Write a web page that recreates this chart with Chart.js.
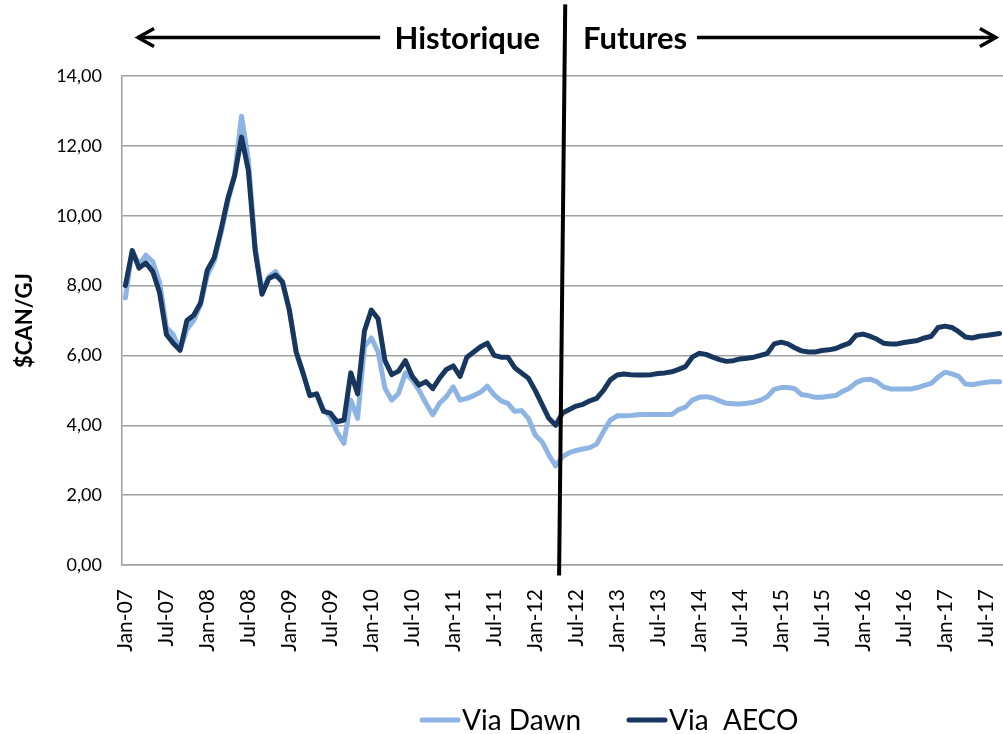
<!DOCTYPE html>
<html><head><meta charset="utf-8">
<script src="https://cdn.jsdelivr.net/npm/chart.js@4.4.1/dist/chart.umd.min.js"></script>
<style>html,body{margin:0;padding:0;background:#fff;overflow:hidden}#wrap{width:1003px;height:734px;position:relative}</style>
</head><body><div id="wrap"><canvas id="c" width="1003" height="734"></canvas></div>
<script>
const categories = [
 'Jan-07','Feb-07','Mar-07','Apr-07','May-07','Jun-07','Jul-07','Aug-07','Sep-07','Oct-07','Nov-07','Dec-07',
 'Jan-08','Feb-08','Mar-08','Apr-08','May-08','Jun-08','Jul-08','Aug-08','Sep-08','Oct-08','Nov-08','Dec-08',
 'Jan-09','Feb-09','Mar-09','Apr-09','May-09','Jun-09','Jul-09','Aug-09','Sep-09','Oct-09','Nov-09','Dec-09',
 'Jan-10','Feb-10','Mar-10','Apr-10','May-10','Jun-10','Jul-10','Aug-10','Sep-10','Oct-10','Nov-10','Dec-10',
 'Jan-11','Feb-11','Mar-11','Apr-11','May-11','Jun-11','Jul-11','Aug-11','Sep-11','Oct-11','Nov-11','Dec-11',
 'Jan-12','Feb-12','Mar-12','Apr-12','May-12','Jun-12','Jul-12','Aug-12','Sep-12','Oct-12','Nov-12','Dec-12',
 'Jan-13','Feb-13','Mar-13','Apr-13','May-13','Jun-13','Jul-13','Aug-13','Sep-13','Oct-13','Nov-13','Dec-13',
 'Jan-14','Feb-14','Mar-14','Apr-14','May-14','Jun-14','Jul-14','Aug-14','Sep-14','Oct-14','Nov-14','Dec-14',
 'Jan-15','Feb-15','Mar-15','Apr-15','May-15','Jun-15','Jul-15','Aug-15','Sep-15','Oct-15','Nov-15','Dec-15',
 'Jan-16','Feb-16','Mar-16','Apr-16','May-16','Jun-16','Jul-16','Aug-16','Sep-16','Oct-16','Nov-16','Dec-16',
 'Jan-17','Feb-17','Mar-17','Apr-17','May-17','Jun-17','Jul-17','Aug-17','Sep-17'
];
const tickLabels = ['Jan-07','Jul-07','Jan-08','Jul-08','Jan-09','Jul-09','Jan-10','Jul-10','Jan-11','Jul-11','Jan-12','Jul-12',
 'Jan-13','Jul-13','Jan-14','Jul-14','Jan-15','Jul-15','Jan-16','Jul-16','Jan-17','Jul-17'];
const viaDawn = [
 7.65,9.0,8.6,8.87,8.68,8.1,6.8,6.6,6.15,6.75,7.0,7.45,
 8.3,8.7,9.5,10.4,11.2,12.85,11.6,9.1,7.85,8.25,8.4,8.1,
 7.3,6.1,5.5,4.85,4.9,4.45,4.25,3.8,3.48,4.72,4.2,6.25,
 6.5,6.1,5.06,4.72,4.92,5.5,5.3,5.0,4.63,4.3,4.63,4.82,
 5.1,4.72,4.77,4.85,4.95,5.12,4.87,4.7,4.63,4.4,4.42,4.2,
 3.72,3.53,3.15,2.84,3.1,3.22,3.28,3.32,3.36,3.46,3.82,4.15,
 4.27,4.27,4.28,4.3,4.31,4.31,4.31,4.31,4.31,4.45,4.52,4.72,
 4.8,4.82,4.78,4.7,4.63,4.62,4.61,4.63,4.66,4.72,4.82,5.03,
 5.08,5.08,5.05,4.88,4.85,4.8,4.8,4.83,4.85,4.97,5.06,5.22,
 5.3,5.32,5.25,5.1,5.04,5.04,5.04,5.04,5.08,5.14,5.2,5.38,
 5.52,5.47,5.4,5.18,5.16,5.2,5.23,5.25,5.25
];
const viaAECO = [
 8.0,9.0,8.5,8.65,8.4,7.8,6.6,6.35,6.15,7.0,7.15,7.5,
 8.45,8.8,9.6,10.5,11.15,12.25,11.3,9.0,7.75,8.2,8.3,8.1,
 7.3,6.1,5.5,4.85,4.9,4.4,4.35,4.1,4.15,5.5,4.9,6.7,
 7.3,7.05,5.85,5.45,5.55,5.85,5.4,5.15,5.25,5.05,5.35,5.6,
 5.7,5.4,5.95,6.1,6.25,6.35,6.0,5.95,5.95,5.65,5.5,5.35,
 5.0,4.6,4.2,4.0,4.35,4.45,4.55,4.6,4.7,4.77,5.0,5.3,
 5.44,5.47,5.45,5.44,5.44,5.45,5.48,5.5,5.53,5.6,5.68,5.95,
 6.06,6.03,5.95,5.88,5.83,5.85,5.9,5.92,5.95,6.0,6.06,6.33,
 6.38,6.33,6.22,6.13,6.1,6.1,6.14,6.16,6.2,6.28,6.35,6.58,
 6.61,6.55,6.47,6.35,6.33,6.33,6.37,6.4,6.43,6.5,6.55,6.8,
 6.84,6.8,6.68,6.53,6.5,6.55,6.57,6.6,6.63
];
const seriesNames = ['Via Dawn','Via  AECO'];
const yTicks = [0,2,4,6,8,10,12,14];

const FONT = 'Lato';
const DAWN = '#8DB4E2', AECO = '#17375E', GRID = '#A0A0A0';

const annot = {
  id: 'annot',
  afterDraw(chart) {
    const {ctx, scales: {x, y}} = chart;
    ctx.save();
    // divider line
    ctx.strokeStyle = '#000'; ctx.lineWidth = 4; ctx.lineCap = 'butt';
    ctx.beginPath();
    ctx.moveTo(x.getPixelForValue(64.4), y.getPixelForValue(16.05));
    ctx.lineTo(x.getPixelForValue(63.5), y.getPixelForValue(-0.3));
    ctx.stroke();
    // arrows
    const ay = y.getPixelForValue(15.1);
    ctx.lineWidth = 3.5; ctx.lineCap = 'butt'; ctx.lineJoin = 'miter';
    const lx1 = x.getPixelForValue(1.7), lx2 = x.getPixelForValue(37.3);
    ctx.beginPath(); ctx.moveTo(lx1 + 2, ay); ctx.lineTo(lx2, ay); ctx.stroke();
    ctx.beginPath(); ctx.moveTo(lx1 + 17, ay - 9); ctx.lineTo(lx1 + 1, ay); ctx.lineTo(lx1 + 17, ay + 9); ctx.stroke();
    const rx1 = x.getPixelForValue(83.7), rx2 = x.getPixelForValue(127.6);
    ctx.beginPath(); ctx.moveTo(rx1, ay); ctx.lineTo(rx2 - 2, ay); ctx.stroke();
    ctx.beginPath(); ctx.moveTo(rx2 - 17, ay - 9); ctx.lineTo(rx2 - 1, ay); ctx.lineTo(rx2 - 17, ay + 9); ctx.stroke();
    // labels
    ctx.fillStyle = '#000';
    ctx.font = 'bold 31px ' + FONT;
    ctx.textBaseline = 'alphabetic';
    ctx.textAlign = 'right';
    ctx.fillText('Historique', x.getPixelForValue(60.7), ay + 11);
    ctx.textAlign = 'left';
    ctx.fillText('Futures', x.getPixelForValue(67.0), ay + 11);
    // legend
    const ly = 720;
    ctx.font = '28px ' + FONT;
    ctx.textBaseline = 'middle';
    ctx.textAlign = 'left';
    const items = [{x: 420}, {x: 627}];
    const dsByLabel = {};
    chart.data.datasets.forEach(d => dsByLabel[d.label] = d);
    items.forEach((it, k) => {
      const d = dsByLabel[seriesNames[k]];
      ctx.strokeStyle = d.borderColor; ctx.lineWidth = 5; ctx.lineCap = 'round';
      ctx.beginPath(); ctx.moveTo(it.x + 2, ly); ctx.lineTo(it.x + 38, ly); ctx.stroke();
      ctx.fillStyle = '#000';
      ctx.fillText(d.label, it.x + 42, ly + 1);
    });
    ctx.restore();
  }
};

new Chart(document.getElementById('c'), {
  type: 'line',
  data: {
    labels: categories,
    datasets: [
      {label: seriesNames[1], data: viaAECO, borderColor: AECO, backgroundColor: AECO, borderWidth: 5, pointRadius: 0, tension: 0, borderJoinStyle: 'round', borderCapStyle: 'round'},
      {label: seriesNames[0], data: viaDawn, borderColor: DAWN, backgroundColor: DAWN, borderWidth: 5, pointRadius: 0, tension: 0, borderJoinStyle: 'round', borderCapStyle: 'round'}
    ]
  },
  options: {
    responsive: false, animation: false, devicePixelRatio: 1,
    layout: {padding: {top: 76, right: 0, bottom: 75, left: 0}},
    plugins: {legend: {display: false}, tooltip: {enabled: false}, title: {display: false}},
    scales: {
      x: {
        type: 'category', offset: true,
        grid: {display: false, drawTicks: false},
        border: {display: true, color: GRID, width: 1.5},
        ticks: {
          autoSkip: false, minRotation: 90, maxRotation: 90, padding: 24,
          color: '#000', font: {family: FONT, size: 21},
          callback: function(v, i) { const l = categories[i]; return tickLabels.includes(l) ? l : ''; }
        },
        afterFit: s => { s.height = 94; s.paddingLeft = 0; s.paddingRight = 0; }
      },
      y: {
        min: 0, max: 14,
        afterBuildTicks: s => { s.ticks = yTicks.map(v => ({value: v})); },
        grid: {color: GRID, lineWidth: 1.5, drawTicks: false},
        border: {display: true, color: GRID, width: 1.5},
        ticks: {padding: 20, color: '#000', font: {family: FONT, size: 18},
          callback: v => v.toFixed(2).replace('.', ',')},
        title: {display: true, text: '$CAN/GJ', color: '#000', font: {family: FONT, size: 22, weight: 'bold'}, padding: {top: 12, bottom: 0}},
        afterFit: s => { s.width = 122; s.paddingTop = 0; s.paddingBottom = 0; }
      }
    }
  },
  plugins: [annot]
});
</script></body></html>
